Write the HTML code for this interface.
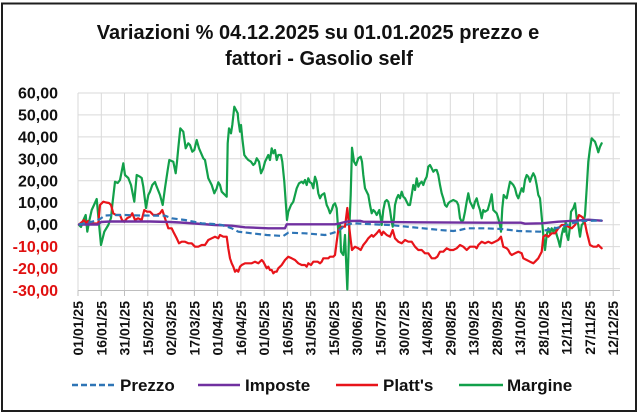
<!DOCTYPE html>
<html>
<head>
<meta charset="utf-8">
<style>
html,body{margin:0;padding:0;background:#ffffff;}
svg{display:block;}
text{font-family:"Liberation Sans",Arial,sans-serif;font-weight:bold;}
</style>
</head>
<body>
<svg width="639" height="415" viewBox="0 0 639 415" xmlns="http://www.w3.org/2000/svg">
<rect x="0" y="0" width="639" height="415" fill="#ffffff"/>
<rect x="2" y="3.5" width="634" height="407.5" fill="#ffffff" stroke="#1e1e1e" stroke-width="2"/>

<!-- Title -->
<text x="318" y="39" font-size="20" text-anchor="middle" fill="#111">Variazioni % 04.12.2025 su 01.01.2025 prezzo e</text>
<text x="319" y="65" font-size="20" text-anchor="middle" fill="#111">fattori - Gasolio self</text>

<!-- Horizontal gridlines -->
<g stroke="#d9d9d9" stroke-width="1">
<line x1="78" y1="93" x2="620" y2="93"/>
<line x1="78" y1="114.9" x2="620" y2="114.9"/>
<line x1="78" y1="136.9" x2="620" y2="136.9"/>
<line x1="78" y1="158.8" x2="620" y2="158.8"/>
<line x1="78" y1="180.8" x2="620" y2="180.8"/>
<line x1="78" y1="202.7" x2="620" y2="202.7"/>
<line x1="78" y1="224.7" x2="620" y2="224.7"/>
<line x1="78" y1="246.6" x2="620" y2="246.6"/>
<line x1="78" y1="268.6" x2="620" y2="268.6"/>
</g>
<!-- Vertical gridlines -->
<g stroke="#d9d9d9" stroke-width="1">
<line x1="78" y1="93" x2="78" y2="290.5"/>
<line x1="101.3" y1="93" x2="101.3" y2="290.5"/>
<line x1="124.5" y1="93" x2="124.5" y2="290.5"/>
<line x1="147.8" y1="93" x2="147.8" y2="290.5"/>
<line x1="171.1" y1="93" x2="171.1" y2="290.5"/>
<line x1="194.4" y1="93" x2="194.4" y2="290.5"/>
<line x1="217.6" y1="93" x2="217.6" y2="290.5"/>
<line x1="240.9" y1="93" x2="240.9" y2="290.5"/>
<line x1="264.2" y1="93" x2="264.2" y2="290.5"/>
<line x1="287.4" y1="93" x2="287.4" y2="290.5"/>
<line x1="310.7" y1="93" x2="310.7" y2="290.5"/>
<line x1="334" y1="93" x2="334" y2="290.5"/>
<line x1="357.2" y1="93" x2="357.2" y2="290.5"/>
<line x1="380.5" y1="93" x2="380.5" y2="290.5"/>
<line x1="403.8" y1="93" x2="403.8" y2="290.5"/>
<line x1="427" y1="93" x2="427" y2="290.5"/>
<line x1="450.3" y1="93" x2="450.3" y2="290.5"/>
<line x1="473.6" y1="93" x2="473.6" y2="290.5"/>
<line x1="496.9" y1="93" x2="496.9" y2="290.5"/>
<line x1="520.1" y1="93" x2="520.1" y2="290.5"/>
<line x1="543.4" y1="93" x2="543.4" y2="290.5"/>
<line x1="566.7" y1="93" x2="566.7" y2="290.5"/>
<line x1="589.9" y1="93" x2="589.9" y2="290.5"/>
<line x1="613.2" y1="93" x2="613.2" y2="290.5"/>
</g>
<!-- X axis line + ticks -->
<g stroke="#bfbfbf" stroke-width="1">
<line x1="78" y1="290.5" x2="620" y2="290.5"/>
<line x1="78" y1="290.5" x2="78" y2="296"/>
<line x1="101.3" y1="290.5" x2="101.3" y2="296"/>
<line x1="124.5" y1="290.5" x2="124.5" y2="296"/>
<line x1="147.8" y1="290.5" x2="147.8" y2="296"/>
<line x1="171.1" y1="290.5" x2="171.1" y2="296"/>
<line x1="194.4" y1="290.5" x2="194.4" y2="296"/>
<line x1="217.6" y1="290.5" x2="217.6" y2="296"/>
<line x1="240.9" y1="290.5" x2="240.9" y2="296"/>
<line x1="264.2" y1="290.5" x2="264.2" y2="296"/>
<line x1="287.4" y1="290.5" x2="287.4" y2="296"/>
<line x1="310.7" y1="290.5" x2="310.7" y2="296"/>
<line x1="334" y1="290.5" x2="334" y2="296"/>
<line x1="357.2" y1="290.5" x2="357.2" y2="296"/>
<line x1="380.5" y1="290.5" x2="380.5" y2="296"/>
<line x1="403.8" y1="290.5" x2="403.8" y2="296"/>
<line x1="427" y1="290.5" x2="427" y2="296"/>
<line x1="450.3" y1="290.5" x2="450.3" y2="296"/>
<line x1="473.6" y1="290.5" x2="473.6" y2="296"/>
<line x1="496.9" y1="290.5" x2="496.9" y2="296"/>
<line x1="520.1" y1="290.5" x2="520.1" y2="296"/>
<line x1="543.4" y1="290.5" x2="543.4" y2="296"/>
<line x1="566.7" y1="290.5" x2="566.7" y2="296"/>
<line x1="589.9" y1="290.5" x2="589.9" y2="296"/>
<line x1="613.2" y1="290.5" x2="613.2" y2="296"/>
</g>

<!-- Y labels -->
<g font-size="16" text-anchor="end">
<text x="58" y="98.5" fill="#111">60,00</text>
<text x="58" y="120.4" fill="#111">50,00</text>
<text x="58" y="142.4" fill="#111">40,00</text>
<text x="58" y="164.3" fill="#111">30,00</text>
<text x="58" y="186.3" fill="#111">20,00</text>
<text x="58" y="208.2" fill="#111">10,00</text>
<text x="58" y="230.2" fill="#111">0,00</text>
<text x="58" y="252.1" fill="#e01010">-10,00</text>
<text x="58" y="274.1" fill="#e01010">-20,00</text>
<text x="58" y="296" fill="#e01010">-30,00</text>
</g>

<!-- X labels -->
<g font-size="14" text-anchor="end" fill="#111">
<text x="83" y="301" transform="rotate(-90 83 301)">01/01/25</text>
<text x="106.3" y="301" transform="rotate(-90 106.3 301)">16/01/25</text>
<text x="129.5" y="301" transform="rotate(-90 129.5 301)">31/01/25</text>
<text x="152.8" y="301" transform="rotate(-90 152.8 301)">15/02/25</text>
<text x="176.1" y="301" transform="rotate(-90 176.1 301)">02/03/25</text>
<text x="199.4" y="301" transform="rotate(-90 199.4 301)">17/03/25</text>
<text x="222.6" y="301" transform="rotate(-90 222.6 301)">01/04/25</text>
<text x="245.9" y="301" transform="rotate(-90 245.9 301)">16/04/25</text>
<text x="269.2" y="301" transform="rotate(-90 269.2 301)">01/05/25</text>
<text x="292.4" y="301" transform="rotate(-90 292.4 301)">16/05/25</text>
<text x="315.7" y="301" transform="rotate(-90 315.7 301)">31/05/25</text>
<text x="339" y="301" transform="rotate(-90 339 301)">15/06/25</text>
<text x="362.2" y="301" transform="rotate(-90 362.2 301)">30/06/25</text>
<text x="385.5" y="301" transform="rotate(-90 385.5 301)">15/07/25</text>
<text x="408.8" y="301" transform="rotate(-90 408.8 301)">30/07/25</text>
<text x="432" y="301" transform="rotate(-90 432 301)">14/08/25</text>
<text x="455.3" y="301" transform="rotate(-90 455.3 301)">29/08/25</text>
<text x="478.6" y="301" transform="rotate(-90 478.6 301)">13/09/25</text>
<text x="501.9" y="301" transform="rotate(-90 501.9 301)">28/09/25</text>
<text x="525.1" y="301" transform="rotate(-90 525.1 301)">13/10/25</text>
<text x="548.4" y="301" transform="rotate(-90 548.4 301)">28/10/25</text>
<text x="571.7" y="301" transform="rotate(-90 571.7 301)">12/11/25</text>
<text x="594.9" y="301" transform="rotate(-90 594.9 301)">27/11/25</text>
<text x="618.2" y="301" transform="rotate(-90 618.2 301)">12/12/25</text>
</g>

<!-- Series -->
<g fill="none" stroke-linejoin="round" stroke-linecap="round">
<!-- Margine (green) -->
<polyline stroke="#12a04a" stroke-width="2.2" points="79,225 81,227 83,221 85.7,215 87.3,231.7 89,222 91.7,210 94,205 96.7,199 97.7,210 101,245 104.3,231.7 108.3,225 111,218 112.3,205 115,181.7 117.7,183 120,180 121,175 123.3,163.3 125,175 128.3,178 131,185 134.3,201.7 136.7,175 140,176.7 141.7,178 143.3,186.7 146,208 148.3,195 150,191.7 152.3,185 155,182 156.7,186.7 160,195 162.7,205 165,188 167.7,170 169.3,160 173.3,161.7 175.7,173.3 177,161.7 178.3,148 180.3,128.3 183.3,131.7 185.7,148.3 188.3,143.3 190,145 192.3,151.7 194.3,150 196.7,140 199,148.3 203.3,158.3 205,160 208.3,178.3 211.7,185 214.3,193.3 216.7,188.3 218.3,182.3 220,185 221.7,191.7 223.3,193.3 225,195 226.7,196.7 227.7,143.3 229,128.3 231,133.3 232.3,125 234.3,106.7 236,110 237.7,113.3 238.3,120 240,131.7 241,125 242.3,138.3 244.3,155 246.7,158.3 248.3,160 251,161.7 253.3,165 255,163.3 256.7,158.3 259,161.7 261,173.3 263.3,168.3 265,161.7 266.7,158.3 268.3,155 270,160 271.7,148.3 273.3,153.3 275,150 276.7,160 278.3,155 281,155 282.3,161.7 284.3,181.7 285.7,201.7 287,220 288.3,211.7 291,205 293.3,201.7 295,195 296.7,188.3 299,183.3 301.7,181.7 303.3,183.3 305,180 306.7,185 308.3,178.3 310,182.3 311.7,183.3 313.3,188.3 315,176.7 316.7,181.7 318.3,193.3 320,198.3 321.7,195 324.3,193.3 326.7,205 328.3,208.3 330,213.3 331.7,210 333.3,205 335,203.3 336.7,208.3 338.3,231.7 340,225 341,251.7 343.3,255 345,235 347.3,289.5 349.3,228 350.7,195 352,147.7 354,161.7 356,165 358.3,158.3 360.7,156.7 362,161.7 363.3,175 365,188.3 366.7,191.7 368.3,195 370,205 371.7,213.3 373.3,210 375,211.7 376.7,215 379.3,210 380.7,218.3 381.7,225 383.3,210 385,201.7 386.7,200 388.3,201.7 390,210 391.7,221.7 392.7,226.7 394,218.3 395,205 396.7,198.3 398.3,195 400,198.3 401.7,191.7 403.3,196.7 405,198.3 406.7,201.7 408.3,205 410,205 411.7,195 413.3,185 415,190 416.7,178.3 418.3,186.7 420,183.3 421.7,181.7 423.3,185 425,180 426.7,176.7 428.3,166.7 430,165 431.7,168.3 433.3,171.7 435,170 436.7,170 438.3,175 440,185 441.7,193.3 443.3,198.3 445,205 446.7,206.7 448.3,203.3 450,201.7 453.3,200 456.7,201.7 458.3,205 460,218.3 461.7,221.7 463.3,220 465,211.7 466.7,201.7 468.3,193.3 470,201.7 471.7,205 473.3,208.3 475,201.7 476.7,198.3 478.3,205 480,210 481.7,218.3 483.3,210 485,211.7 487.7,210 490,201.7 491.7,194.3 493.3,210 495,211.7 496.7,213.3 498.3,218.3 500,225 501,231.7 502.3,208.3 503.7,195 505,196.7 506.7,198.3 508.3,190 510,181.7 511.7,183.3 513.3,185 515,188.3 516.7,195 518.3,198.3 520,193.3 521.7,188.3 523.3,191.7 525,180 526.7,175 528.3,176.7 530,181.7 531.7,176.7 533.3,173.3 535,176.7 536.7,185 538.3,195 540,198.3 541.7,216.7 543.3,235 545,250 546.7,235 548.3,228.3 550,233.3 551.7,228.3 553.3,231.7 555,227.7 556.7,235 558.3,240 560,246.7 561.7,235 563.3,228.3 564.3,231.7 565.7,221.7 566.7,235 568.3,240 570,226.7 571,211.7 573.3,208.3 575,203.3 576.7,218.3 578.3,225 580,236.7 581.7,225 583.3,223.3 585,215 586.7,188.3 588.3,161.7 590,148.3 591.7,138.3 593.3,140 595,141.7 596.7,146.7 598.3,152.3 600,146.7 601.7,143.3"/>
<!-- Platt's (red) -->
<polyline stroke="#e8141a" stroke-width="2.2" points="79,224.5 82,222 84,220 86,223 88,221 90,224 94,223.5 98.3,223.3 100,205 103.3,201.7 106,202.5 109,203 111,205 113.3,213.3 116,215 120,215 122,220 124.3,221.7 127,218.3 130,216.7 132.3,213.3 135,220 138,218.3 141.7,220 144.3,210 147,211.7 150,211.7 153.3,215 156.7,215 160,213.3 162.3,210 165,218.3 166.7,223.3 168.3,228.3 171.7,228.3 173.3,231.7 176.7,238.3 179,243.3 181.7,241.7 185,241.7 188.3,243.3 191.7,243.3 195,246.7 198.3,246.7 201.7,245 205,245 208.3,240 211.7,238.3 215,236.7 218.3,238.3 220,235 223.3,236.7 226.7,236.7 228.3,248.3 230,258.3 231.7,263.3 233.3,266.7 235,271.7 236.7,270 238.3,271.7 240,266.7 241.7,265 245,263.3 248.3,263.3 251.7,263.3 255,261.7 258.3,263.3 261.7,260 263.3,261.7 265,265 266.7,268.3 268.3,266.7 270,270 271.7,270 273.3,273.3 275,271.7 276.7,271.7 278.3,268.3 280,266.7 281.7,265 285,260 288.3,256.7 291.7,258.3 295,260 298.3,263.3 301.7,265 305,265 306.7,266.7 308.3,263.3 311,265 313.3,261.7 315,261.7 317.7,261.7 320,263.3 321.7,261.7 323.3,258.3 325.7,258.3 328.3,258.3 330,256.7 333.3,256.7 335,255 336.7,241.7 338.3,230 341.7,226.7 345,226.7 347.3,208 349,225 350.7,240 352,250 355,246.7 358.3,248.3 360.7,250 363.3,245 366,241.7 368.3,238.3 371.7,235 373.3,236.7 376.7,233.3 379.3,230 381.7,235 383.3,231.7 386.7,235 390,236.7 392.7,230 395,238.3 398.3,241.7 401.7,243.3 405,240 408.3,241.7 411.7,241.7 415,246.7 418.3,250 421.7,250 425,253.3 428.3,253.3 431.7,258.3 435,258.3 437.3,256.7 440,251.7 443.3,251.7 446.7,248.3 450,250 453.3,250 456.7,248.3 460,245 463.3,246.7 466.7,250 470,246.7 473.3,246.7 475,246.7 476.7,248.3 478.3,245 481.7,241.7 485,243.3 488.3,241.7 491.7,243.3 495,241.7 498.3,240 501,236.7 503.3,246.7 506.7,248.3 508.3,250 510,253.3 511.7,255 515,253.3 518.3,251.7 521.7,253.3 523.3,258.3 526.7,260 530,261.7 533.3,263.3 535,261.7 538.3,258.3 541.7,251.7 543.3,236.7 545.7,235 548.3,236.7 551.7,233.3 555,233.3 558.3,228.3 561.7,225 565,225 568.3,226.7 571.7,228.3 575,225 576.7,221.7 579,215 581.7,216.7 583.3,218.3 585,223.3 586.7,231.7 588.3,238.3 590,245 593.3,246.7 596.7,246.7 598.3,245 600,246.7 601.7,248.3"/>
<!-- Imposte (purple) -->
<polyline stroke="#7030a0" stroke-width="2.4" points="79,224.5 98,224.5 101,222 110,221.5 150,221.5 170,222 180,222.5 195,223.5 215,225 231.7,225.7 245,227.3 268.3,228.3 285,228.3 286.7,224.3 335,224.3 340,223.3 345,222 350,221 360,220.8 363.3,221.7 416.7,222.3 485,222.7 521,222.7 525,223.7 541.7,223.3 558.3,221.7 575,220.7 588.3,219.7 601.7,220.7"/>
<!-- Prezzo (blue dashed) -->
<polyline stroke="#2e75b6" stroke-width="2.2" stroke-dasharray="6 3.5" stroke-linecap="butt" points="79,224.5 85,223.3 95,221 100,219 105,215.5 115,215 125,215 140,215.5 165,215.7 171.7,218.3 185,220 201.7,223.3 213.3,224 221.7,225 231.7,228.3 238.3,231.7 251.7,233.3 266.7,235 283.3,236 288.3,232.7 305,233.3 325,235 331.7,233.3 336.7,231.7 341.7,228.3 345,225 353.3,223.3 373.3,224.3 390,225 406.7,226.7 423.3,228.3 440,230 453.3,231 460,230 466.7,228.3 485,228.3 501.7,229 518.3,231 540,231.7 546.7,230 555,228.3 561.7,226.7 571.7,223.3 581.7,221 601.7,220.5"/>
</g>

<!-- Legend -->
<g stroke-width="2.5" fill="none">
<line x1="72" y1="385" x2="115" y2="385" stroke="#2e75b6" stroke-dasharray="6 3"/>
<line x1="198" y1="385" x2="240" y2="385" stroke="#7030a0"/>
<line x1="336" y1="385" x2="378" y2="385" stroke="#e8141a"/>
<line x1="459" y1="385" x2="503" y2="385" stroke="#12a04a"/>
</g>
<g font-size="17" fill="#111">
<text x="120" y="391">Prezzo</text>
<text x="245" y="391">Imposte</text>
<text x="383" y="391">Platt's</text>
<text x="507" y="391">Margine</text>
</g>
</svg>
</body>
</html>
